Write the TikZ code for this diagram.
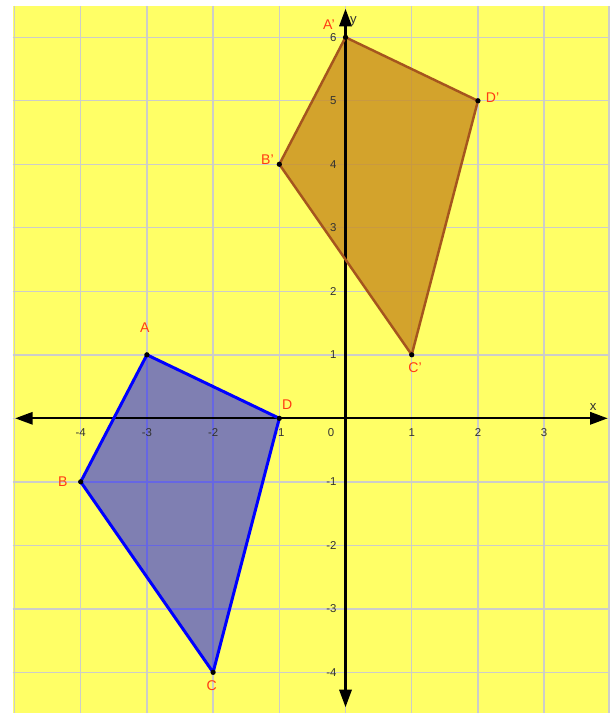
\documentclass[tikz,border=0pt]{standalone}
\usepackage{fontspec}
\setmainfont{Liberation Sans}
\usetikzlibrary{arrows.meta}
\definecolor{paperyellow}{RGB}{255, 255, 102}
\definecolor{gridgray}{RGB}{205, 205, 200}
\definecolor{ptred}{RGB}{255, 60, 20}
\definecolor{ticktext}{RGB}{50, 50, 50}
\definecolor{quadblue}{RGB}{0, 0, 255}
\definecolor{quadfill}{RGB}{128, 128, 176}
\definecolor{imgbrown}{RGB}{165, 85, 30}
\definecolor{imgfill}{RGB}{200, 140, 30}

\begin{document}
\begin{tikzpicture}[x=1.324cm, y=1.27cm, every node/.style={font=\fontsize{8}{9}\selectfont}]
\tikzset{
    axisline/.style={black, line width=1.3pt, {Triangle[length=10pt, width=7pt]}-{Triangle[length=10pt, width=7pt]}},
    ticklab/.style={text=ticktext, font=\fontsize{6.5}{7}\selectfont, inner sep=0pt},
    ptlab/.style={text=ptred, inner sep=0pt},
    vertexdot/.style={fill=black, circle, inner sep=0pt, minimum size=3pt}
}
\useasboundingbox (-5.219,-4.672) rectangle (4.056,6.587);

% Background and grid
\fill[paperyellow] (-5.03,-4.64) rectangle (3.99,6.49);
\foreach \x in {-5,...,3}
    \draw[gridgray, line width=0.8pt] (\x,-4.64) -- (\x,6.49);
\draw[gridgray, line width=0.8pt] (3.98,-4.64) -- (3.98,6.49);
\foreach \y in {-4,...,6}
    \draw[gridgray, line width=0.8pt] (-5.03,\y) -- (3.99,\y);

% Quadrilateral ABCD
\coordinate (A) at (-3,1);
\coordinate (B) at (-4,-1);
\coordinate (C) at (-2,-4);
\coordinate (D) at (-1,0);
\fill[quadblue, fill opacity=0.5] (A) -- (B) -- (C) -- (D) -- cycle;

% Image A'B'C'D'
\coordinate (A1) at (0,6);
\coordinate (B1) at (-1,4);
\coordinate (C1) at (1,1);
\coordinate (D1) at (2,5);
\fill[imgfill, fill opacity=0.8] (A1) -- (B1) -- (C1) -- (D1) -- cycle;

% Axes
\coordinate (xl) at (-4.99,0);
\coordinate (xr) at (3.96,0);
\coordinate (yb) at (0,-4.55);
\coordinate (yt) at (0,6.45);
\draw[axisline] (xl) -- (xr);
\draw[axisline] (yb) -- (yt);
\node[ticklab, font=\fontsize{7.5}{8}\selectfont] (xlab) at (3.74,0.17) {x};
\node[ticklab, font=\fontsize{7.5}{8}\selectfont] (ylab) at (0.12,6.25) {y};

% Tick labels
\foreach \x in {-4,-3,-2,-1,1,2,3}
    \node[ticklab] (tx\x) at (\x,-0.23) {\x};
\node[ticklab] (t0) at (-0.22,-0.23) {0};
\foreach \y in {-4,-3,-2,-1,1,2,3,4,5,6}
    \node[ticklab, anchor=east] (ty\y) at (-0.13,\y) {\y};

% Edges of both polygons
\draw[quadblue, line width=1.7pt, line join=round] (A) -- (B) -- (C) -- (D) -- cycle;
\draw[imgbrown, line width=1.4pt, line join=round] (A1) -- (B1) -- (C1) -- (D1) -- cycle;

% Vertices
\foreach \p in {A,B,C,D,A1,B1,C1,D1}
    \node[vertexdot] (dot\p) at (\p) {};

% Point labels
\node[ptlab] (lA) at (-3.03,1.42) {A};
\node[ptlab] (lB) at (-4.27,-1) {B};
\node[ptlab] (lC) at (-2.02,-4.21) {C};
\node[ptlab] (lD) at (-0.88,0.21) {D};
\node[ptlab] (lA1) at (-0.25,6.2) {A'};
\node[ptlab] (lB1) at (-1.18,4.07) {B'};
\node[ptlab] (lC1) at (1.05,0.8) {C'};
\node[ptlab] (lD1) at (2.22,5.05) {D'};
\end{tikzpicture}
\end{document}
